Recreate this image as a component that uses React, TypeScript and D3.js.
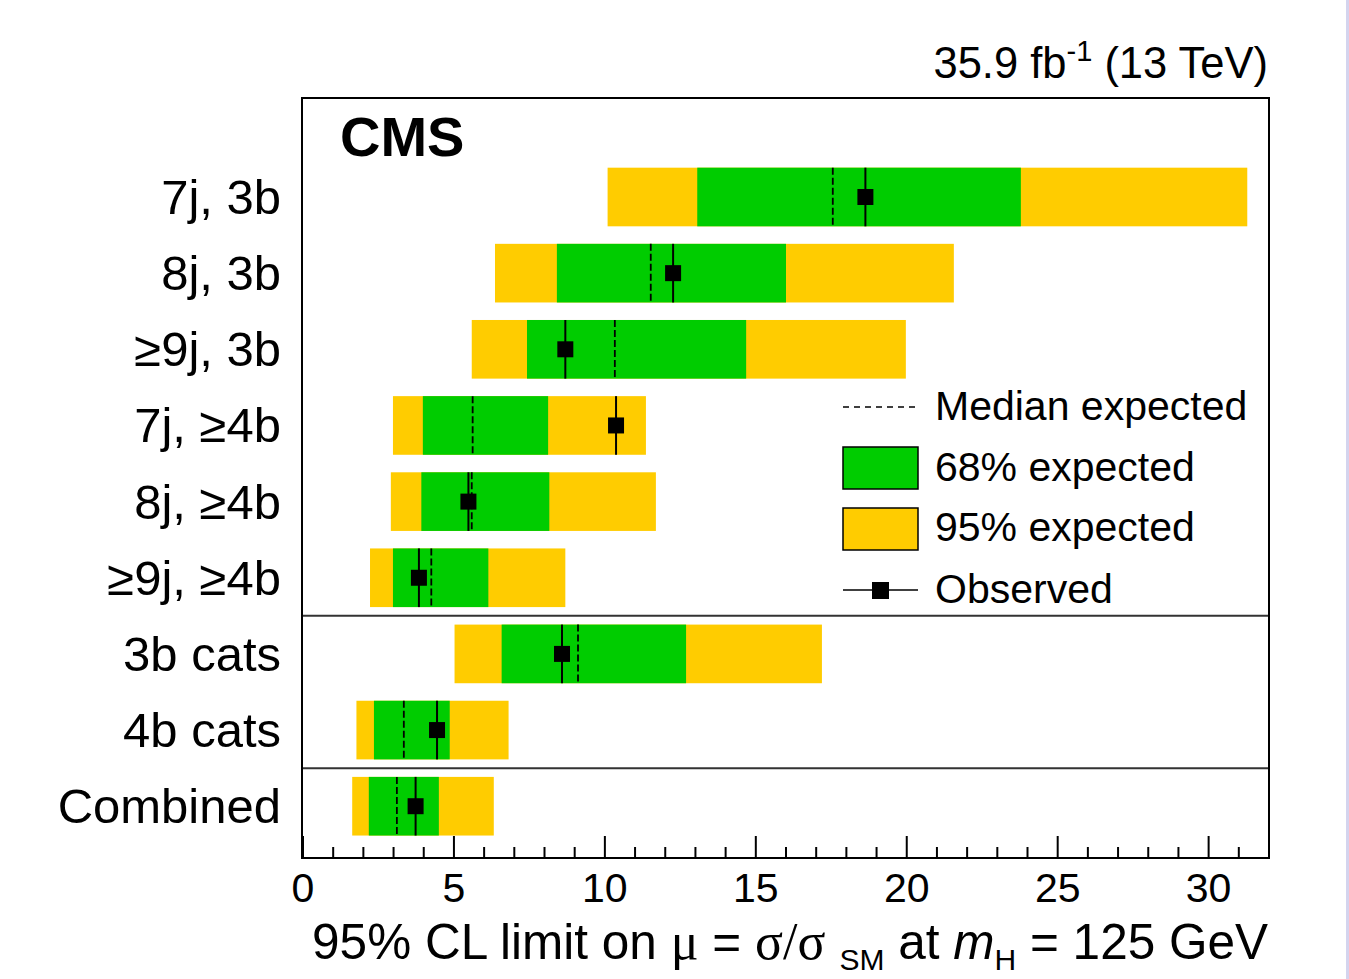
import React, { useEffect } from "react";
import * as d3 from "d3";

// Categories, top to bottom
const categories = ["7j, 3b", "8j, 3b", "≥9j, 3b", "7j, ≥4b", "8j, ≥4b", "≥9j, ≥4b", "3b cats", "4b cats", "Combined"];
// 95% CL upper limits on the signal strength
const observed = [18.63, 12.26, 8.69, 10.37, 5.48, 3.84, 8.58, 4.44, 3.73];
const medianExpected = [17.55, 11.52, 10.33, 5.62, 5.59, 4.25, 9.11, 3.34, 3.11];
const lo68 = [13.06, 8.41, 7.42, 3.97, 3.92, 2.98, 6.58, 2.35, 2.18];
const hi68 = [23.78, 16.0, 14.68, 8.12, 8.16, 6.14, 12.69, 4.86, 4.5];
const lo95 = [10.09, 6.36, 5.59, 2.98, 2.91, 2.22, 5.02, 1.77, 1.63];
const hi95 = [31.28, 21.56, 19.97, 11.36, 11.69, 8.69, 17.19, 6.81, 6.32];
// Rows after which a horizontal divider is drawn
const dividersAfter = [5, 7];
const xMajorTicks = [0, 5, 10, 15, 20, 25, 30];

const W = 1349;
const H = 979;
const frame = { left: 302, right: 1269, top: 98, bottom: 858 };
const GREEN = "#00cc00";
const YELLOW = "#ffcc00";
const SANS = "'Liberation Sans', Arial, Helvetica, sans-serif";
const SERIF = "'Liberation Serif', 'Times New Roman', serif";

export default function App() {
  useEffect(() => {
    document.body.style.margin = "0";
  }, []);

  const x = d3.scaleLinear().domain([0, 32]).range([frame.left + 1, frame.right]);
  const y = d3.scaleLinear().domain([-1.3, 8.68]).range([frame.top, frame.bottom]);
  const barHalf = (y(1) - y(0)) * 0.385;
  const minorTicks = d3.range(0, 32).filter((v) => v % 5 !== 0);

  return (
    <svg width={W} height={H} style={{ display: "block", background: "#fff" }}>
      {/* bands */}
      {categories.map((c, i) => (
        <g key={c}>
          <rect x={x(lo95[i])} y={y(i) - barHalf} width={x(hi95[i]) - x(lo95[i])} height={2 * barHalf} fill={YELLOW} />
          <rect x={x(lo68[i])} y={y(i) - barHalf} width={x(hi68[i]) - x(lo68[i])} height={2 * barHalf} fill={GREEN} />
          <line x1={x(medianExpected[i])} x2={x(medianExpected[i])} y1={y(i) - barHalf} y2={y(i) + barHalf}
            stroke="#000" strokeWidth={1.8} strokeDasharray="7 3" />
          <line x1={x(observed[i])} x2={x(observed[i])} y1={y(i) - barHalf} y2={y(i) + barHalf}
            stroke="#000" strokeWidth={2} />
          <rect x={x(observed[i]) - 8} y={y(i) - 8} width={16} height={16} fill="#000" />
          <text x={281} y={y(i) + 17} textAnchor="end" fontFamily={SANS} fontSize={49} fill="#000">{c}</text>
        </g>
      ))}

      {/* dividers */}
      {dividersAfter.map((d) => (
        <line key={d} x1={frame.left} x2={frame.right} y1={y(d + 0.5)} y2={y(d + 0.5)} stroke="#333" strokeWidth={2} />
      ))}

      {/* frame */}
      <rect x={frame.left} y={frame.top} width={frame.right - frame.left} height={frame.bottom - frame.top}
        fill="none" stroke="#000" strokeWidth={2} />

      {/* x axis ticks */}
      {xMajorTicks.map((t) => (
        <g key={"M" + t}>
          <line x1={x(t)} x2={x(t)} y1={frame.bottom} y2={frame.bottom - 22} stroke="#000" strokeWidth={2} />
          <text x={x(t)} y={902} textAnchor="middle" fontFamily={SANS} fontSize={41} fill="#000">{t}</text>
        </g>
      ))}
      {minorTicks.map((t) => (
        <line key={"m" + t} x1={x(t)} x2={x(t)} y1={frame.bottom} y2={frame.bottom - 11} stroke="#000" strokeWidth={2} />
      ))}

      {/* axis title */}
      <text x={1268} y={959} textAnchor="end" fontFamily={SANS} fontSize={49.5} fill="#000">
        <tspan>95% CL limit on </tspan>
        <tspan fontFamily={SERIF} fontSize={52}>μ</tspan>
        <tspan> = </tspan>
        <tspan fontFamily={SERIF} fontSize={52}>σ/σ</tspan>
        <tspan fontSize={30} dx={14} dy={11}>SM</tspan>
        <tspan dy={-11}> at </tspan>
        <tspan fontStyle="italic">m</tspan>
        <tspan fontSize={30} dy={11}>H</tspan>
        <tspan dy={-11}> = 125 GeV</tspan>
      </text>

      {/* luminosity / energy label */}
      <text x={1268} y={78} textAnchor="end" fontFamily={SANS} fontSize={43.5} fill="#000">
        <tspan>35.9 fb</tspan>
        <tspan fontSize={29} dy={-17}>-1</tspan>
        <tspan dy={17}> (13 TeV)</tspan>
      </text>

      <text x={340} y={156} fontFamily={SANS} fontWeight="bold" fontSize={56} fill="#000">CMS</text>

      {/* legend */}
      <g fontFamily={SANS} fontSize={41} fill="#000">
        <line x1={843} x2={916} y1={407} y2={407} stroke="#000" strokeWidth={1.5} strokeDasharray="6 5" />
        <text x={935} y={420}>Median expected</text>
        <rect x={843} y={447} width={75} height={42} fill={GREEN} stroke="#000" strokeWidth={1.5} />
        <text x={935} y={481}>68% expected</text>
        <rect x={843} y={508} width={75} height={42} fill={YELLOW} stroke="#000" strokeWidth={1.5} />
        <text x={935} y={541}>95% expected</text>
        <line x1={843} x2={918} y1={590} y2={590} stroke="#000" strokeWidth={1.5} />
        <rect x={872} y={582} width={17} height={17} fill="#000" />
        <text x={935} y={603}>Observed</text>
      </g>

      <line x1={1347.5} x2={1347.5} y1={0} y2={H} stroke="#d4d4ee" strokeWidth={3} />
    </svg>
  );
}
